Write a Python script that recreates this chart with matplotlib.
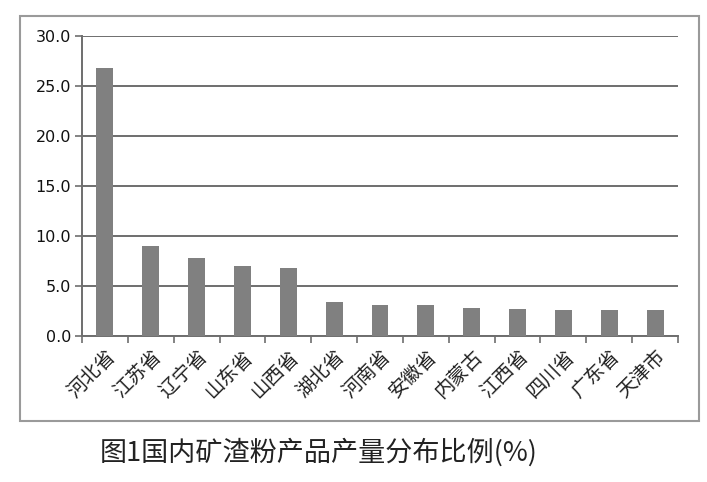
"""Bar chart: share of slag powder output by province."""

import matplotlib.pyplot as plt
from matplotlib.patches import Rectangle

plt.rcParams["font.family"] = ["DejaVu Sans", "Noto Sans CJK SC"]

provinces = ["河北省", "江苏省", "辽宁省", "山东省", "山西省", "湖北省", "河南省",
             "安徽省", "内蒙古", "江西省", "四川省", "广东省", "天津市"]
shares = [26.8, 9.0, 7.8, 7.0, 6.8, 3.4, 3.1, 3.1, 2.8, 2.7, 2.6, 2.6, 2.6]
y_ticks = [0, 5, 10, 15, 20, 25, 30]
caption = "图1国内矿渣粉产品产量分布比例(%)"

W, H = 707, 482
fig = plt.figure(figsize=(W / 100, H / 100), dpi=100)
fig.patches.append(Rectangle((20 / W, 1 - 421 / H), 679 / W, 405 / H,
                             transform=fig.transFigure, fill=False,
                             edgecolor="#9a9a9a", lw=1.5))

ax = fig.add_axes([82 / W, 1 - 336 / H, 596 / W, 300 / H])
x = range(len(provinces))
ax.bar(x, shares, width=0.37, color="#808080", zorder=3)

ax.set_xlim(-0.5, len(provinces) - 0.5)
ax.set_ylim(0, 30)
ax.set_yticks(y_ticks)
ax.set_yticklabels([f"{v:.1f}" for v in y_ticks], fontsize=11.5,
                   color="#111111")
ax.yaxis.grid(True, color="#6e6e6e", lw=1.4, zorder=0)

# category separators as major ticks, names on minor ticks
ax.set_xticks([i + 0.5 for i in range(-1, len(provinces))], minor=False)
ax.set_xticklabels([])
ax.set_xticks(list(x), minor=True)
ax.set_xticklabels(provinces, minor=True, rotation=45, ha="right",
                   rotation_mode="anchor", fontsize=14,
                   family=["Noto Sans CJK SC"], color="#222222")
ax.tick_params(axis="x", which="minor", length=0, pad=7)
ax.tick_params(axis="x", which="major", length=5, color="#6e6e6e", width=1.2)
ax.tick_params(axis="y", length=5, color="#6e6e6e", width=1.2, pad=3)

for side in ["top", "right"]:
    ax.spines[side].set_visible(False)
for side in ["left", "bottom"]:
    ax.spines[side].set_color("#6e6e6e")
    ax.spines[side].set_linewidth(1.4)

fig.text(100 / W, 1 - 452 / H, caption, fontsize=19.5, va="center",
         ha="left", family=["Noto Sans CJK SC"], color="#222222",
         fontweight="light")

fig.savefig("out.png", dpi=100, facecolor="white")
